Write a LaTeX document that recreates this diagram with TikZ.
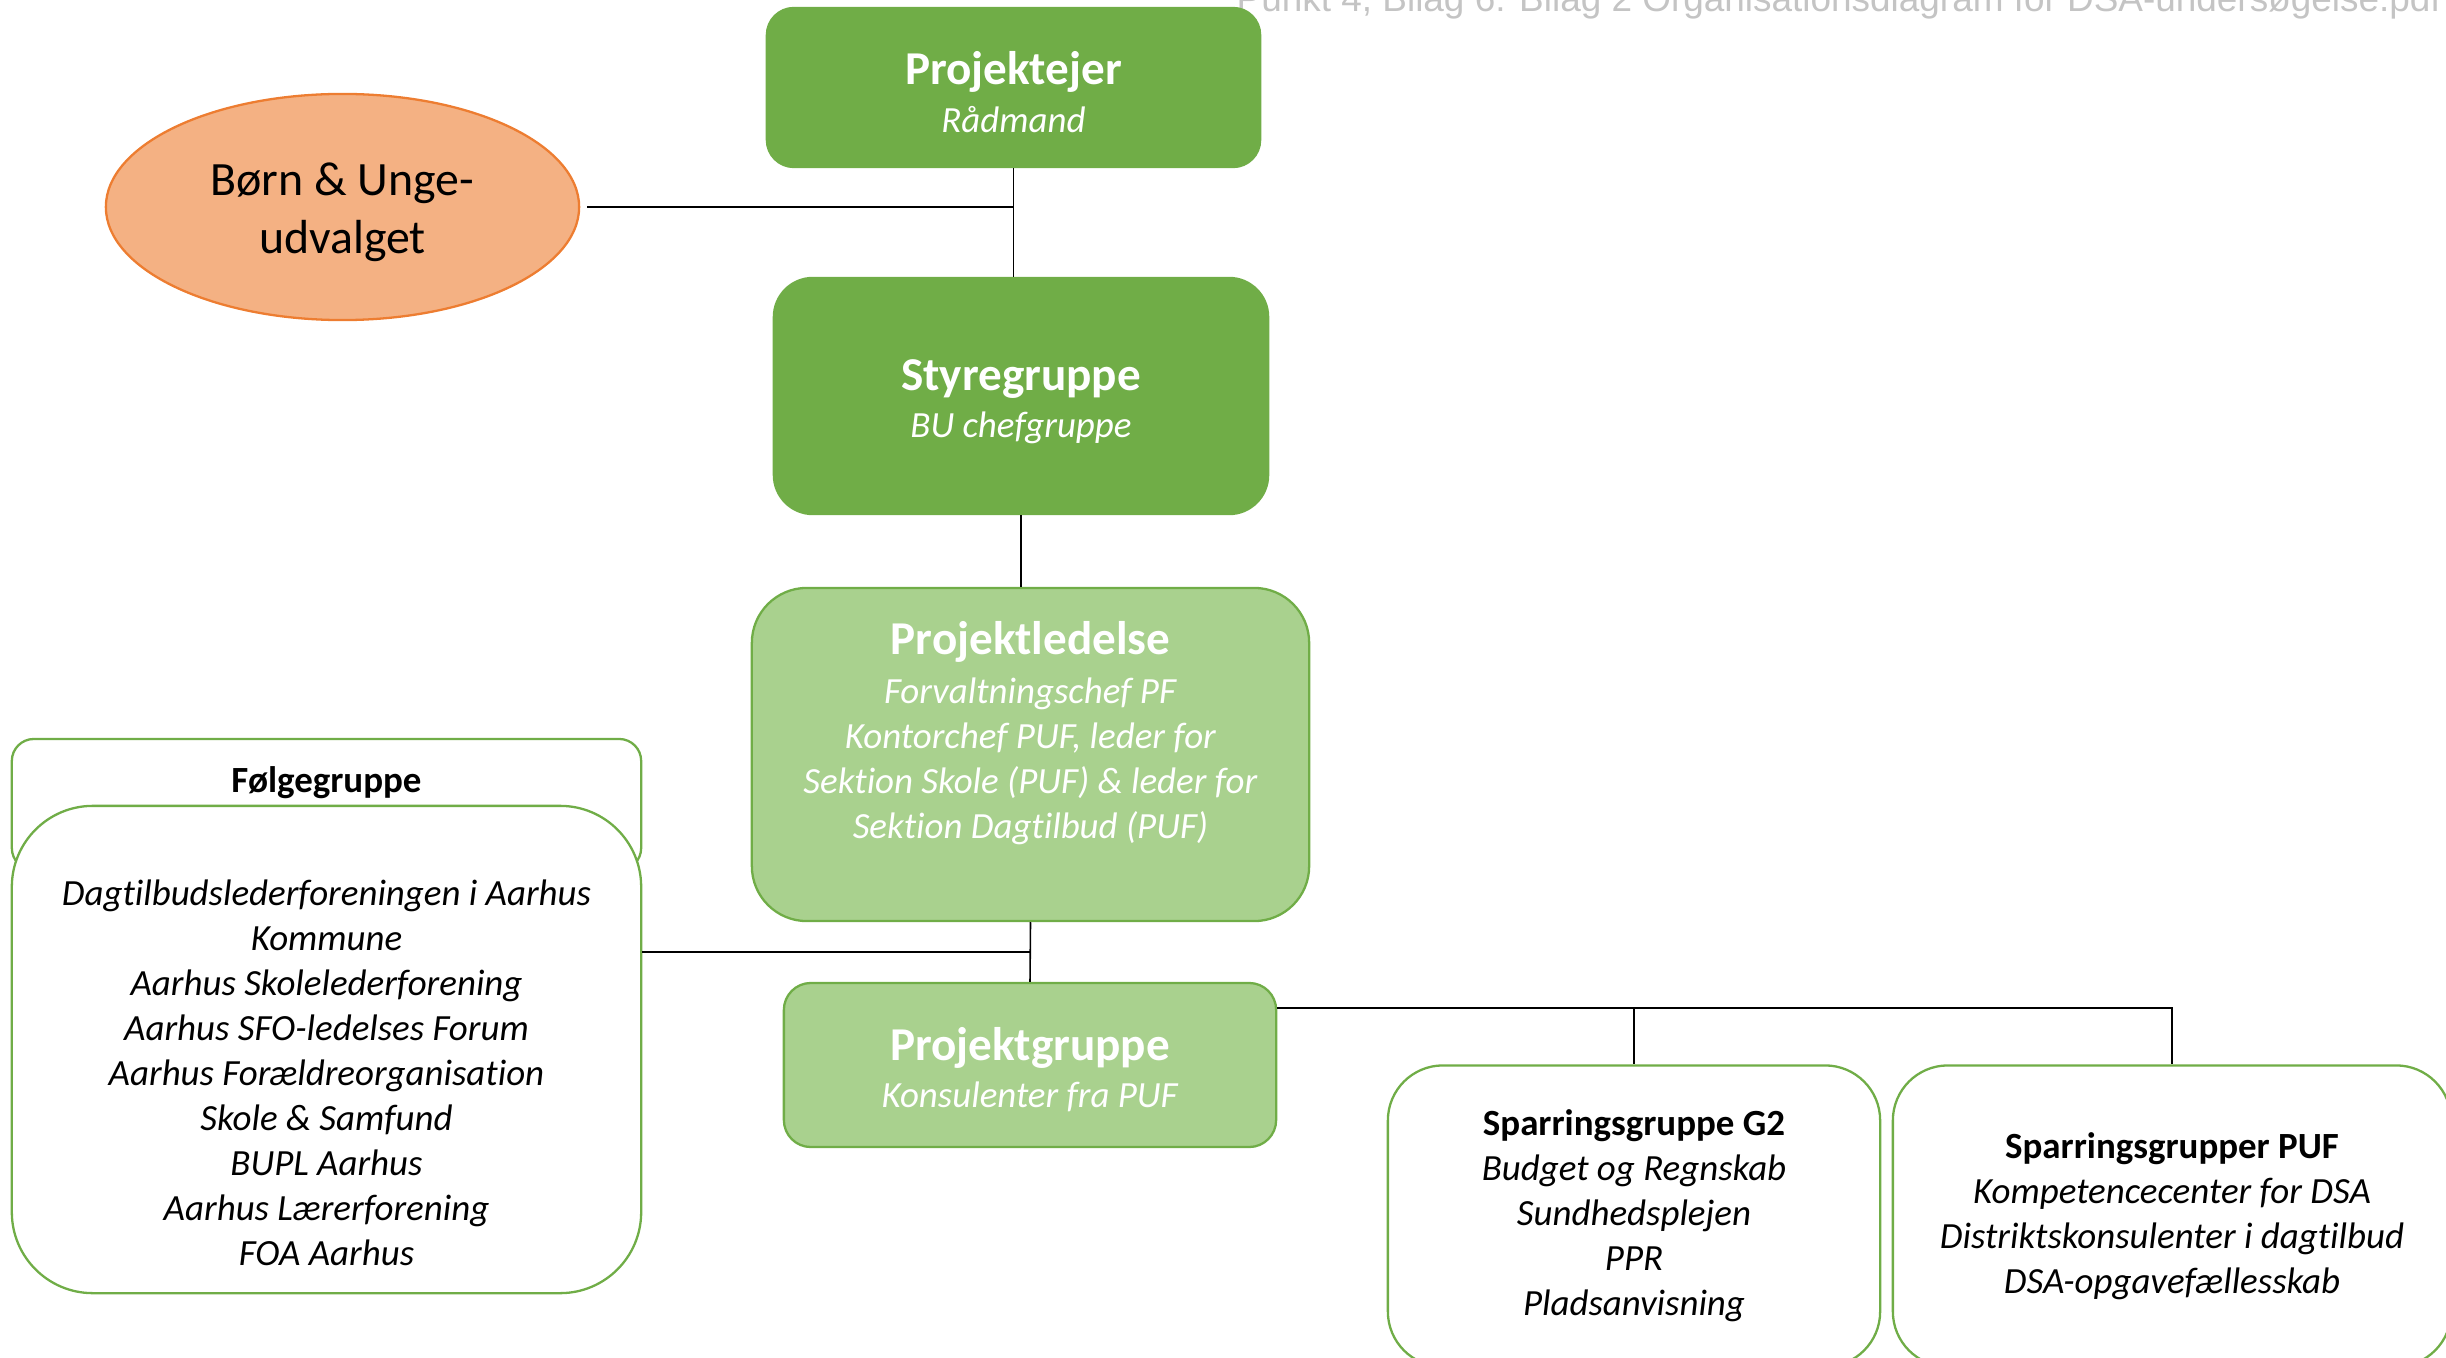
\documentclass[tikz,border=0pt]{standalone}
\usepackage{fontspec}
\setmainfont{Carlito}[Ligatures = {NoCommon}]
\newfontfamily\headfont{Liberation Sans}
\usepackage{tikz}
\usetikzlibrary{positioning,shapes.geometric}
\definecolor{boxgreen}{HTML}{70AD47}
\definecolor{palegreen}{HTML}{A9D18E}
\definecolor{peach}{HTML}{F4B183}
\definecolor{peachline}{HTML}{ED7D31}
\definecolor{headgray}{HTML}{C4C4C4}
\newcommand{\boxtitle}[1]{{\fontsize{13.4}{16}\selectfont\bfseries\rule{0pt}{12pt}#1}}

\begin{document}
\begin{tikzpicture}[x = 0.01cm, y = -0.01cm,
  box/.style = {draw = boxgreen, line width = 0.65pt, inner sep = 0pt, align = center, font = \fontsize{10.5}{12.8}\selectfont},
  darkbox/.style = {box, fill = boxgreen, text = white},
  lightbox/.style = {box, fill = palegreen, text = white},
  whitebox/.style = {box, fill = white},
  link/.style = {draw, line width = 0.45pt}]
\useasboundingbox (0,0) rectangle (2446,1358);
\node[text = headgray, font = \headfont\fontsize{10.5}{12}\selectfont, anchor = base west, inner sep = 0pt] (filename) at (1236,12) {Punkt 4, Bilag 6: Bilag 2 Organisationsdiagram for DSA-undersøgelse.pdf};
\node[ellipse, draw = peachline, fill = peach, line width = 0.65pt, minimum width = 4.73cm, minimum height = 2.26cm, inner sep = 0pt, align = center, font = \fontsize{13.6}{16.5}\selectfont] (council) at (342.5,207) {\rule{0pt}{12.2pt}Børn \& Unge-\\udvalget};
\node[darkbox, minimum width = 4.93cm, minimum height = 1.59cm, rounded corners = 0.27cm] (owner) at (1013.5,87.5) {\boxtitle{Projektejer}\\[0.25mm] \textit{Rådmand}};
\node[darkbox, minimum width = 4.94cm, minimum height = 2.36cm, rounded corners = 0.39cm] (steer) at (1021,396) {\boxtitle{Styregruppe}\\[0.25mm] \textit{BU chefgruppe}};
\node[lightbox, minimum width = 5.57cm, minimum height = 3.33cm, rounded corners = 0.55cm] (lead) at (1030.5,754.5) {\boxtitle{Projektledelse}\\[0.4mm] \textit{Forvaltningschef PF}\\ \textit{Kontorchef PUF, leder for}\\ \textit{Sektion Skole (PUF) \& leder for}\\ \textit{Sektion Dagtilbud (PUF)}\\[1.4mm] ~};
\node[lightbox, minimum width = 4.92cm, minimum height = 1.64cm, rounded corners = 0.27cm] (projgrp) at (1030,1065) {\boxtitle{Projektgruppe}\\[0.25mm] \textit{Konsulenter fra PUF}};
\node[whitebox, minimum width = 6.29cm, minimum height = 1.31cm, rounded corners = 0.22cm] (follow) at (326.5,804.5) {};
\node[font = \fontsize{10.5}{12.8}\selectfont\bfseries] (followtitle) at (326.5,783) {Følgegruppe};
\node[whitebox, minimum width = 6.29cm, minimum height = 4.87cm, rounded corners = 0.81cm] (followbody) at (326.5,1049.5) {~\\[2.8mm] \textit{Dagtilbudslederforeningen i Aarhus}\\ \textit{Kommune}\\ \textit{Aarhus Skolelederforening}\\ \textit{Aarhus SFO-ledelses Forum}\\ \textit{Aarhus Forældreorganisation}\\ \textit{Skole \& Samfund}\\ \textit{BUPL Aarhus}\\ \textit{Aarhus Lærerforening}\\ \textit{FOA Aarhus}};
\node[whitebox, minimum width = 4.92cm, minimum height = 3.01cm, rounded corners = 0.55cm] (g2) at (1634,1216) {\textbf{Sparringsgruppe G2}\\ \textit{Budget og Regnskab}\\ \textit{Sundhedsplejen}\\ \textit{PPR}\\ \textit{Pladsanvisning}};
\node[whitebox, minimum width = 5.58cm, minimum height = 3.01cm, rounded corners = 0.55cm] (puf) at (2172,1216) {\textbf{Sparringsgrupper PUF}\\ \textit{Kompetencecenter for DSA}\\ \textit{Distriktskonsulenter i dagtilbud}\\ \textit{DSA-opgavefællesskab}};
\path[link] (owner.south) -- (owner.south |- steer.north);
\path[link] ([xshift = 0.07cm]council.east) -- (owner.south |- council.east);
\path[link] (steer.south) -- (steer.south |- lead.north);
\path[link] (lead.south) -- (projgrp.north);
\coordinate (tee) at (1030,952);
\path[link] (tee) -- (tee -| followbody.east);
\path[link] ([yshift = -0.26cm]projgrp.north east) coordinate (bus) -- (bus -| puf.north) -- (puf.north);
\path[link] (bus -| g2.north) -- (g2.north);
\end{tikzpicture}
\end{document}
